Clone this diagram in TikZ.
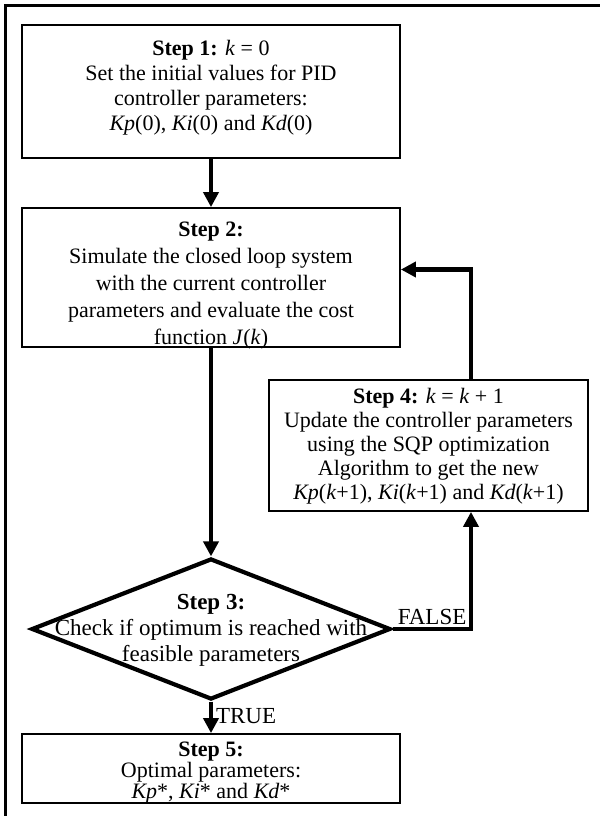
\documentclass[tikz,border=0pt]{standalone}
\usepackage{fontspec}
\setmainfont{Liberation Serif}
\usetikzlibrary{arrows.meta,shapes.geometric}
\begin{document}
\begin{tikzpicture}[x=1pt,y=1pt,
  every node/.style={font=\fontsize{22}{26}\selectfont},
  stepbox/.style={draw,line width=1.8pt,inner sep=0pt},
  steptext/.style={align=center,inner sep=0pt},
  flow/.style={line width=4.2pt,-{Triangle[length=15pt,width=15pt]}},
  lbl/.style={inner sep=1pt,font=\fontsize{23}{26}\selectfont}]
\useasboundingbox (0,0) rectangle (600,-816);
\draw[line width=3pt] (5,-816) -- (5,-6) -- (600,-6);
% boxes
\node[stepbox,minimum width=378pt,minimum height=133pt] (s1) at (211,-91.5) {};
\node[stepbox,minimum width=378pt,minimum height=139pt] (s2) at (211,-277.5) {};
\node[stepbox,minimum width=319pt,minimum height=131pt] (s4) at (428.5,-445.5) {};
\node[diamond,draw,line width=4.2pt,minimum width=359pt,minimum height=141pt,inner sep=0pt] (d3) at (211,-629) {};
\node[stepbox,minimum width=378pt,minimum height=69pt] (s5) at (211,-768.5) {};
% texts
\node[steptext,font=\fontsize{22}{25}\selectfont] (t1) at ([yshift=4pt]s1.center)
  {\textbf{Step 1:} \textit{k} = 0\\Set the initial values for PID\\controller parameters:\\\textit{Kp}(0), \textit{Ki}(0) and \textit{Kd}(0)};
\node[steptext,font=\fontsize{22}{27}\selectfont] (t2) at ([yshift=-8pt]s2.center)
  {\textbf{Step 2:}\\Simulate the closed loop system\\with the current controller\\parameters and evaluate the cost\\function \textit{J}(\textit{k})};
\node[steptext,font=\fontsize{22}{24}\selectfont] (t4) at ([yshift=-1pt]s4.center)
  {\textbf{Step 4:} \textit{k} = \textit{k} + 1\\Update the controller parameters\\using the SQP optimization\\Algorithm to get the new\\\textit{Kp}(\textit{k}+1), \textit{Ki}(\textit{k}+1) and \textit{Kd}(\textit{k}+1)};
\node[steptext,font=\fontsize{23}{26}\selectfont] (t3) at ([yshift=-1pt]d3.center)
  {\textbf{Step 3:}\\Check if optimum is reached with\\feasible parameters};
\node[steptext,font=\fontsize{22}{21}\selectfont] (t5) at ([yshift=-4pt]s5.center)
  {\textbf{Step 5:}\\Optimal parameters:\\\textit{Kp}*, \textit{Ki}* and \textit{Kd}*};
% connectors
\coordinate (fc) at ([xshift=42.5pt]s4.south);
\coordinate (tc) at ([xshift=42.5pt]s4.north);
\draw[flow] (s1) -- (s2);
\draw[flow] (s2) -- (d3);
\draw[flow] (d3) -- node[lbl,right,pos=0.45,xshift=2pt] {TRUE} (s5);
\draw[flow] (d3.east) -| (fc);
\node[lbl,anchor=south west] (fl) at ([xshift=4pt,yshift=3pt]d3.east) {FALSE};
\draw[flow] (tc) |- ([yshift=8pt]s2.east);
\end{tikzpicture}
\end{document}
